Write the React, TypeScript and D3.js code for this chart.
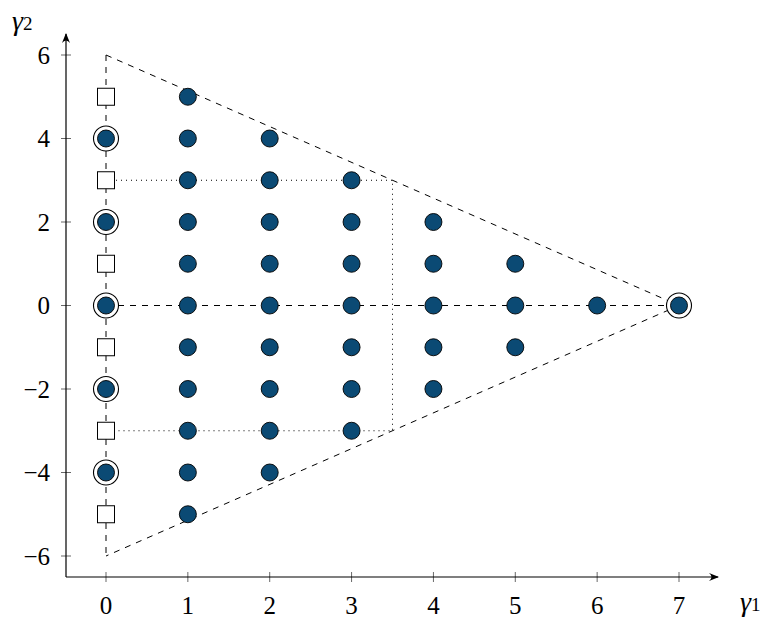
import React from "react";
import * as d3 from "d3";

const xTicks = [0, 1, 2, 3, 4, 5, 6, 7];
const yTicks = [-6, -4, -2, 0, 2, 4, 6];
// filled points: column x with its y values
const columnX = [0, 1, 2, 3, 4, 5, 6, 7];
const columnYs = [
  [-4, -2, 0, 2, 4],
  [-5, -4, -3, -2, -1, 0, 1, 2, 3, 4, 5],
  [-4, -3, -2, -1, 0, 1, 2, 3, 4],
  [-3, -2, -1, 0, 1, 2, 3],
  [-2, -1, 0, 1, 2],
  [-1, 0, 1],
  [0],
  [0],
];
const squareYs = [-5, -3, -1, 1, 3, 5];
const ringedPoints: [number, number][] = [
  [0, -4], [0, -2], [0, 0], [0, 2], [0, 4], [7, 0],
];
const triangle: [number, number][] = [[0, 6], [7, 0], [0, -6]];
const dottedBox: [number, number][] = [[0, 3], [3.5, 3], [3.5, -3], [0, -3]];

const FILL = "#0b4a74";
const FONT = "'Liberation Serif', 'Times New Roman', serif";

export default function App() {
  const W = 774, H = 625;
  const x = d3.scaleLinear().domain([0, 7]).range([106, 679]);
  const y = d3.scaleLinear().domain([-6, 6]).range([556, 55]);
  const axisX0 = 66, axisY0 = 577;
  const line = d3.line<[number, number]>().x(d => x(d[0])).y(d => y(d[1]));

  const filled: [number, number][] = [];
  columnX.forEach((cx, i) => columnYs[i].forEach(v => filled.push([cx, v])));

  const css = `svg.chart text, svg.chart tspan { font-family: ${FONT} !important; }`;

  return (
    <div style={{ position: "absolute", left: 0, top: 0, width: W, height: H, fontFamily: FONT }}>
      <style>{css}</style>
      <svg className="chart" width={W} height={H} style={{ display: "block", background: "#fff", fontFamily: FONT }}>
        <defs>
          <marker id="arr" viewBox="0 0 10 10" refX="9" refY="5" markerWidth="10" markerHeight="10"
            markerUnits="userSpaceOnUse" orient="auto">
            <path d="M0,1 Q5,5 0,9 L10,5 Z" fill="#000" />
          </marker>
        </defs>
        <path d={line(triangle) || ""} fill="none" stroke="#000" strokeWidth={1} strokeDasharray="6 6" />
        <path d={line([[0, 6], [0, -6]]) || ""} fill="none" stroke="#000" strokeWidth={1} strokeDasharray="6 6" />
        <path d={line([[0, 0], [7, 0]]) || ""} fill="none" stroke="#000" strokeWidth={1} strokeDasharray="6 6" />
        <path d={line(dottedBox) || ""} fill="none" stroke="#000" strokeWidth={1} strokeDasharray="1 4" />

        <line x1={axisX0} y1={axisY0} x2={718} y2={axisY0} stroke="#000" strokeWidth={1.2} markerEnd="url(#arr)" />
        <line x1={axisX0} y1={axisY0} x2={axisX0} y2={34} stroke="#000" strokeWidth={1.2} markerEnd="url(#arr)" />
        {xTicks.map(t => (
          <g key={"xt" + t}>
            <line x1={x(t)} x2={x(t)} y1={axisY0 - 5} y2={axisY0 + 5} stroke="#000" strokeWidth={0.6} />
            <text x={x(t)} y={614} fontSize={25} textAnchor="middle" style={{ fontFamily: FONT }}>{t}</text>
          </g>
        ))}
        {yTicks.map(t => (
          <g key={"yt" + t}>
            <line x1={axisX0 - 5} x2={axisX0 + 5} y1={y(t)} y2={y(t)} stroke="#000" strokeWidth={0.6} />
            <text x={50} y={y(t) + 8.5} fontSize={25} textAnchor="end" style={{ fontFamily: FONT }}>{t < 0 ? "\u2212" + Math.abs(t) : String(t)}</text>
          </g>
        ))}
        <text x={12} y={30} fontSize={28} style={{ fontFamily: FONT }}>
          <tspan fontStyle="italic">γ</tspan><tspan fontSize={19}>2</tspan>
        </text>
        <text x={740} y={611} fontSize={28} style={{ fontFamily: FONT }}>
          <tspan fontStyle="italic">γ</tspan><tspan fontSize={19}>1</tspan>
        </text>

        {ringedPoints.map(([a, b], i) => (
          <circle key={"r" + i} cx={x(a)} cy={y(b)} r={12.5} fill="#fff" stroke="#000" strokeWidth={1.1} />
        ))}
        {squareYs.map(v => (
          <rect key={"s" + v} x={x(0) - 8.5} y={y(v) - 8.5} width={17} height={17} fill="#fff" stroke="#000" strokeWidth={1} />
        ))}
        {filled.map(([a, b], i) => (
          <circle key={"f" + i} cx={x(a)} cy={y(b)} r={8.5} fill={FILL} stroke="#000" strokeWidth={0.9} />
        ))}
      </svg>
    </div>
  );
}
